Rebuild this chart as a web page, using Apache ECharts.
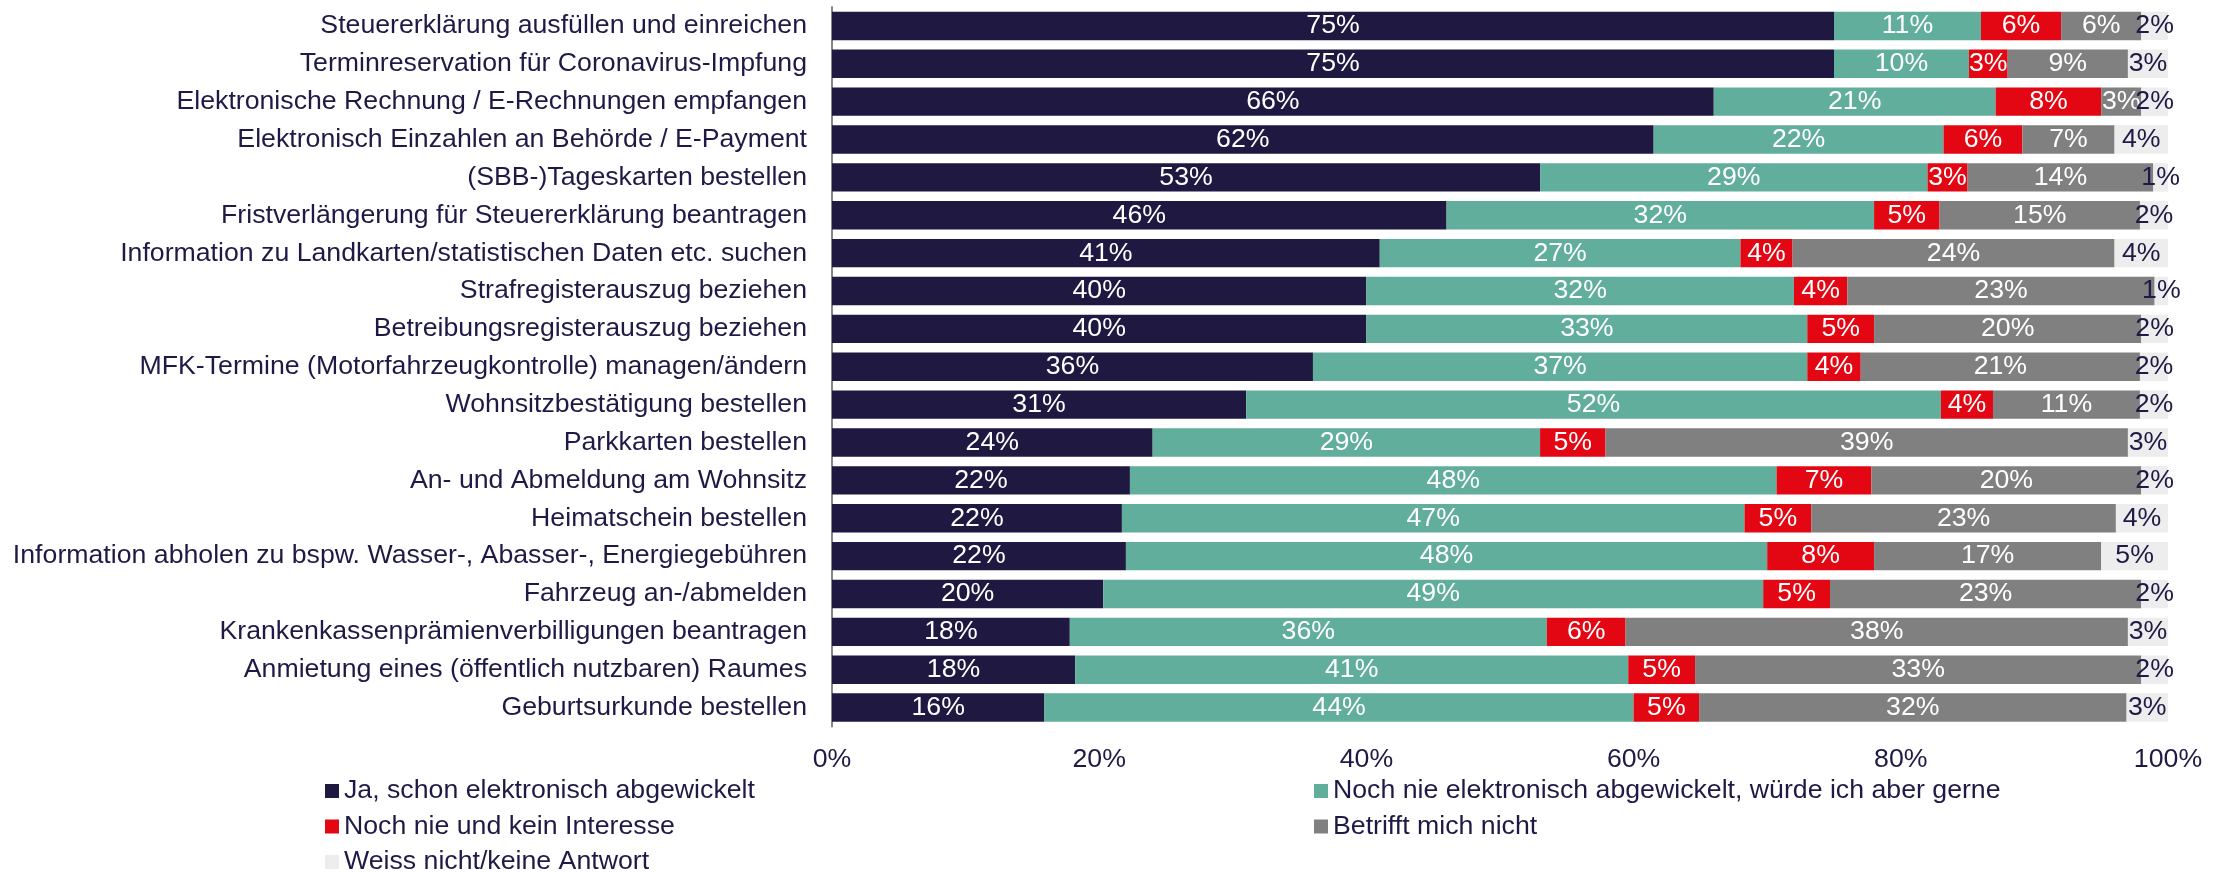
<!DOCTYPE html>
<html>
<head>
<meta charset="utf-8">
<script src="https://cdn.jsdelivr.net/npm/echarts@6/dist/echarts.min.js"></script>
<style>
  html, body { margin: 0; padding: 0; background: #fff; }
  #chartBox { width: 2226px; height: 872px; }
</style>
</head>
<body>
<div id="chartBox"></div>
<script>
// categories, top to bottom
const categories = [
  "Steuererklärung ausfüllen und einreichen",
  "Terminreservation für Coronavirus-Impfung",
  "Elektronische Rechnung / E-Rechnungen empfangen",
  "Elektronisch Einzahlen an Behörde / E-Payment",
  "(SBB-)Tageskarten bestellen",
  "Fristverlängerung für Steuererklärung beantragen",
  "Information zu Landkarten/statistischen Daten etc. suchen",
  "Strafregisterauszug beziehen",
  "Betreibungsregisterauszug beziehen",
  "MFK-Termine (Motorfahrzeugkontrolle) managen/ändern",
  "Wohnsitzbestätigung bestellen",
  "Parkkarten bestellen",
  "An- und Abmeldung am Wohnsitz",
  "Heimatschein bestellen",
  "Information abholen zu bspw. Wasser-, Abasser-, Energiegebühren",
  "Fahrzeug an-/abmelden",
  "Krankenkassenprämienverbilligungen beantragen",
  "Anmietung eines (öffentlich nutzbaren) Raumes",
  "Geburtsurkunde bestellen"
];

const seriesNames = [
  "Ja, schon elektronisch abgewickelt",
  "Noch nie elektronisch abgewickelt, würde ich aber gerne",
  "Noch nie und kein Interesse",
  "Betrifft mich nicht",
  "Weiss nicht/keine Antwort"
];

// shares in %
const jaValues = [75, 75, 66, 61.5, 53, 46, 41, 40, 40, 36, 31, 24, 22.3, 21.7, 22, 20.3, 17.8, 18.2, 15.9];
const gerneValues = [11, 10.1, 21.1, 21.7, 29, 32, 27, 32, 33, 37, 52, 29, 48.4, 46.6, 48, 49.4, 35.7, 41.4, 44.1];
const keinValues = [6, 2.9, 7.9, 5.9, 3, 4.9, 3.9, 4, 5, 4, 3.9, 4.9, 7.1, 5, 8, 5, 5.9, 5, 4.9];
const betrifftValues = [6, 9, 3, 6.9, 13.9, 15, 24.1, 23, 20, 20.9, 11, 39.1, 20.2, 22.8, 17, 23.3, 37.6, 33.4, 32];
const weissValues = [2, 3, 2, 4, 1.1, 2.1, 4, 1, 2, 2.1, 2.1, 3, 2, 3.9, 5, 2, 3, 2, 3.1];

const xTicks = [0, 20, 40, 60, 80, 100];

const textColor = "#1f1a45";
const colors = ["#1f1942", "#62ae9d", "#e30613", "#808080", "#ededed"];
const labelColors = ["#ffffff", "#ffffff", "#ffffff", "#ffffff", textColor];
const fontFamily = "Liberation Sans, Arial, sans-serif";
const fontSize = 26.7;

const allValues = [jaValues, gerneValues, keinValues, betrifftValues, weissValues];

// legend slots: [left, centre y] per series
const legendSlots = [
  [325, 791],
  [1314, 791],
  [325, 826.5],
  [1314, 826.5],
  [325, 862],
];

const chartDom = document.getElementById("chartBox");
const myChart = echarts.init(chartDom);

const series = seriesNames.map((name, i) => ({
  name: name,
  type: "bar",
  stack: "total",
  barCategoryGap: "25%",
  itemStyle: { color: colors[i] },
  label: {
    show: true,
    position: "inside",
    color: labelColors[i],
    fontFamily: fontFamily,
    fontSize: fontSize,
    formatter: (p) => Math.round(p.value) + "%",
  },
  data: allValues[i],
}));

const legends = seriesNames.map((name, i) => ({
  orient: "horizontal",
  left: legendSlots[i][0],
  top: legendSlots[i][1] - 14,
  padding: 0,
  itemWidth: 14,
  itemHeight: 14,
  icon: "rect",
  textStyle: {
    color: textColor,
    fontFamily: fontFamily,
    fontSize: fontSize,
    lineHeight: 28,
  },
  data: [name],
}));

const option = {
  animation: false,
  color: colors,
  textStyle: { fontFamily: fontFamily },
  grid: {
    left: 832,
    right: 58,
    top: 7,
    bottom: 145.5,
  },
  legend: legends,
  xAxis: {
    type: "value",
    min: xTicks[0],
    max: xTicks[xTicks.length - 1],
    interval: 20,
    axisLine: { show: false },
    axisTick: { show: false },
    splitLine: { show: false },
    axisLabel: {
      margin: 20,
      color: textColor,
      fontFamily: fontFamily,
      fontSize: fontSize,
      formatter: "{value}%",
    },
  },
  yAxis: {
    type: "category",
    inverse: true,
    data: categories,
    axisLine: { show: true, lineStyle: { color: "#868686", width: 2 } },
    axisTick: { show: false },
    axisLabel: {
      margin: 25,
      color: textColor,
      fontFamily: fontFamily,
      fontSize: fontSize,
    },
  },
  series: series,
};

myChart.setOption(option);
</script>
</body>
</html>
